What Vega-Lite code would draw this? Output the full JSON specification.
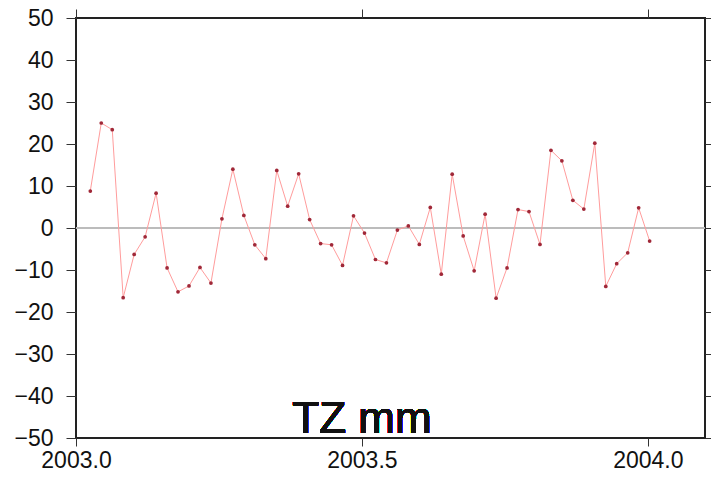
{
  "$schema": "https://vega.github.io/schema/vega-lite/v6.json",
  "width": 629,
  "height": 420,
  "autosize": {"type": "none"},
  "padding": {"left": 76, "top": 18, "right": 6, "bottom": 42},
  "background": "white",
  "config": {
    "view": {"stroke": "#222", "strokeWidth": 2},
    "font": "Liberation Sans",
    "axis": {
      "grid": false,
      "domain": false,
      "tickColor": "#333",
      "tickWidth": 1,
      "labelFont": "Liberation Sans",
      "labelFontSize": 23,
      "labelColor": "#111",
      "title": null
    }
  },
  "data": {
    "values": [
      {"t": 2003.0250, "v": 8.8},
      {"t": 2003.0442, "v": 25.0},
      {"t": 2003.0634, "v": 23.4},
      {"t": 2003.0825, "v": -16.6},
      {"t": 2003.1017, "v": -6.3},
      {"t": 2003.1209, "v": -2.1},
      {"t": 2003.1401, "v": 8.3},
      {"t": 2003.1593, "v": -9.5},
      {"t": 2003.1784, "v": -15.2},
      {"t": 2003.1976, "v": -13.8},
      {"t": 2003.2168, "v": -9.4},
      {"t": 2003.2360, "v": -13.1},
      {"t": 2003.2552, "v": 2.2},
      {"t": 2003.2743, "v": 14.0},
      {"t": 2003.2935, "v": 3.0},
      {"t": 2003.3127, "v": -4.0},
      {"t": 2003.3319, "v": -7.3},
      {"t": 2003.3511, "v": 13.7},
      {"t": 2003.3702, "v": 5.2},
      {"t": 2003.3894, "v": 12.9},
      {"t": 2003.4086, "v": 2.0},
      {"t": 2003.4278, "v": -3.7},
      {"t": 2003.4470, "v": -4.0},
      {"t": 2003.4661, "v": -8.9},
      {"t": 2003.4853, "v": 2.9},
      {"t": 2003.5045, "v": -1.2},
      {"t": 2003.5237, "v": -7.5},
      {"t": 2003.5429, "v": -8.3},
      {"t": 2003.5620, "v": -0.5},
      {"t": 2003.5812, "v": 0.5},
      {"t": 2003.6004, "v": -3.9},
      {"t": 2003.6196, "v": 4.9},
      {"t": 2003.6388, "v": -11.0},
      {"t": 2003.6579, "v": 12.8},
      {"t": 2003.6771, "v": -1.9},
      {"t": 2003.6963, "v": -10.2},
      {"t": 2003.7155, "v": 3.3},
      {"t": 2003.7347, "v": -16.7},
      {"t": 2003.7538, "v": -9.5},
      {"t": 2003.7730, "v": 4.4},
      {"t": 2003.7922, "v": 3.9},
      {"t": 2003.8114, "v": -3.9},
      {"t": 2003.8306, "v": 18.5},
      {"t": 2003.8497, "v": 16.0},
      {"t": 2003.8689, "v": 6.6},
      {"t": 2003.8881, "v": 4.5},
      {"t": 2003.9073, "v": 20.2},
      {"t": 2003.9265, "v": -13.9},
      {"t": 2003.9456, "v": -8.5},
      {"t": 2003.9648, "v": -5.9},
      {"t": 2003.9840, "v": 4.8},
      {"t": 2004.0032, "v": -3.1}
    ]
  },
  "resolve": {"axis": {"x": "independent", "y": "independent"}},
  "layer": [
    {
      "mark": {"type": "rule", "color": "#bdbdbd", "strokeWidth": 1.5},
      "encoding": {
        "y": {"datum": 0, "type": "quantitative", "scale": {"domain": [-50, 50], "nice": false, "zero": false}, "axis": null}
      }
    },
    {
      "mark": {"type": "line", "color": "#ff9c9c", "strokeWidth": 1},
      "encoding": {
        "x": {"field": "t", "type": "quantitative", "scale": {"domain": [2003, 2004.1], "nice": false, "zero": false},
              "axis": {"orient": "bottom", "values": [2003, 2003.5, 2004], "format": ".1f", "tickSize": 8, "labelPadding": 3, "labelFlush": false, "labelOverlap": false}},
        "y": {"field": "v", "type": "quantitative", "scale": {"domain": [-50, 50], "nice": false, "zero": false},
              "axis": {"orient": "left", "values": [-50, -40, -30, -20, -10, 0, 10, 20, 30, 40, 50], "tickSize": 10, "labelPadding": 13, "labelFlush": false, "labelOverlap": false}}
      }
    },
    {
      "mark": {"type": "point", "filled": true, "color": "#a02838", "size": 14, "opacity": 1},
      "encoding": {
        "x": {"field": "t", "type": "quantitative", "axis": {"orient": "top", "values": [2003, 2003.5, 2004], "tickSize": 9, "labels": false}},
        "y": {"field": "v", "type": "quantitative", "axis": {"orient": "right", "values": [-50, -40, -30, -20, -10, 0, 10, 20, 30, 40, 50], "tickSize": 6, "labels": false}}
      }
    },
    {
      "mark": {"type": "text", "text": "TZ mm", "fontSize": 44, "font": "Liberation Sans", "color": "#111", "baseline": "alphabetic", "align": "center"},
      "encoding": {
        "x": {"datum": 2003.5, "type": "quantitative", "axis": null},
        "y": {"datum": -48.9, "type": "quantitative", "axis": null}
      }
    }
  ]
}
